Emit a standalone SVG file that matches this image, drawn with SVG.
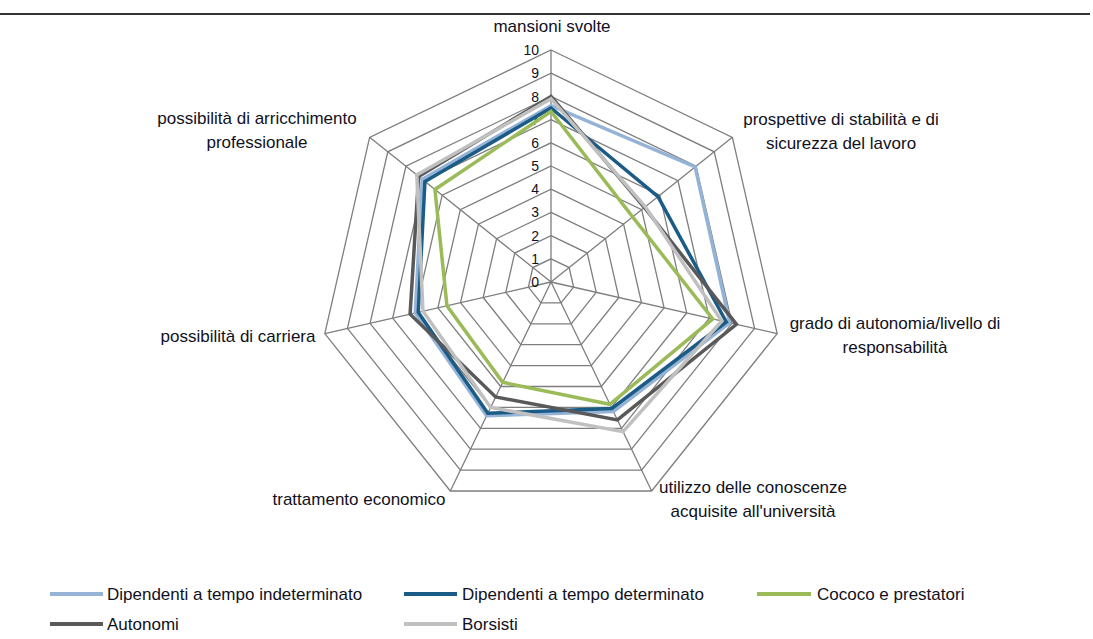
<svg xmlns="http://www.w3.org/2000/svg" width="1093" height="639" viewBox="0 0 1093 639">
<style>
.lbl{font-family:"Liberation Sans",Arial,sans-serif;font-size:17px;fill:#111122;text-anchor:middle}
.leg{font-family:"Liberation Sans",Arial,sans-serif;font-size:17px;fill:#111122}
.tick{font-family:"Liberation Sans",Arial,sans-serif;font-size:14px;fill:#111122;text-anchor:end}
.grid{fill:none;stroke:#7e7e7e;stroke-width:1.3}
.ser{fill:none;stroke-width:3.5;stroke-linejoin:miter;vector-effect:non-scaling-stroke}
.s1{stroke:#95b3d7}.s2{stroke:#1b5c86}.s3{stroke:#9bbb59}.s4{stroke:#595959}.s5{stroke:#c0c0c0}
.ll{stroke-width:4}
</style>
<rect width="1093" height="639" fill="#ffffff"/>
<line x1="0" y1="14" x2="1090" y2="14" stroke="#333333" stroke-width="2"/>
<g id="grid" class="grid">
<polygon points="551,258.8 569.14,267.54 573.62,287.16 561.07,302.9 540.93,302.9 528.38,287.16 532.86,267.54"/>
<polygon points="551,235.6 587.28,253.07 596.24,292.32 571.13,323.8 530.87,323.8 505.76,292.32 514.72,253.07"/>
<polygon points="551,212.4 605.41,238.6 618.85,297.49 581.2,344.71 520.8,344.71 483.15,297.49 496.59,238.6"/>
<polygon points="551,189.2 623.55,224.14 641.47,302.65 591.26,365.61 510.74,365.61 460.53,302.65 478.45,224.14"/>
<polygon points="551,166 641.69,209.67 664.09,307.81 601.33,386.51 500.67,386.51 437.91,307.81 460.31,209.67"/>
<polygon points="551,142.8 659.83,195.21 686.71,312.97 611.4,407.41 490.6,407.41 415.29,312.97 442.17,195.21"/>
<polygon points="551,119.6 677.97,180.74 709.33,318.13 621.46,428.31 480.54,428.31 392.67,318.13 424.03,180.74"/>
<polygon points="551,96.4 696.1,166.28 731.94,323.3 631.53,449.22 470.47,449.22 370.06,323.3 405.9,166.28"/>
<polygon points="551,73.2 714.24,151.82 754.56,328.46 641.59,470.12 460.41,470.12 347.44,328.46 387.76,151.82"/>
<polygon points="551,50 732.38,137.35 777.18,333.62 651.66,491.02 450.34,491.02 324.82,333.62 369.62,137.35"/>
<path d="M551 282L551 50M551 282L732.38 137.35M551 282L777.18 333.62M551 282L651.66 491.02M551 282L450.34 491.02M551 282L324.82 333.62M551 282L369.62 137.35"/>
</g>
<g id="ticks" class="tick">
<text x="539" y="287">0</text>
<text x="539" y="264">1</text>
<text x="539" y="241">2</text>
<text x="539" y="217">3</text>
<text x="539" y="194">4</text>
<text x="539" y="171">5</text>
<text x="539" y="148">6</text>
<text x="539" y="125">7</text>
<text x="539" y="102">8</text>
<text x="539" y="78">9</text>
<text x="539" y="55">10</text>
</g>
<g id="series" transform="translate(551 282) scale(23.2)">
<polygon id="indeterminato" class="ser s1" points="0,-7.6 6.2155,-4.9567 7.7019,1.7579 2.6901,5.586 -2.7768,5.7662 -5.8496,1.3351 -5.551,-4.4268"/>
<polygon id="determinato" class="ser s2" points="0,-7.5 4.6128,-3.6786 7.5557,1.7245 2.625,5.4509 -2.7248,5.6581 -5.7228,1.3062 -5.4337,-4.3333"/>
<polygon id="cococo" class="ser s3" points="0,-7.35 3.5182,-2.8057 6.9707,1.591 2.5382,5.2707 -2.0826,4.3247 -4.4847,1.0236 -5.0037,-3.9903"/>
<polygon id="autonomi" class="ser s4" points="0,-8 4.0264,-3.211 7.9944,1.8247 2.8636,5.9464 -2.3863,4.9553 -6.0738,1.3863 -5.7074,-4.5515"/>
<polygon id="borsisti" class="ser s5" points="0,-7.9 4.0655,-3.2421 7.3607,1.68 3.1066,6.4509 -2.6033,5.4058 -5.5181,1.2595 -5.7855,-4.6138"/>
</g>
<g id="axis-labels" class="lbl">
<text x="552" y="32">mansioni svolte</text>
<text x="841" y="125">prospettive di stabilità e di</text>
<text x="841" y="149">sicurezza del lavoro</text>
<text x="895" y="329">grado di autonomia/livello di</text>
<text x="895" y="353">responsabilità</text>
<text x="753" y="493">utilizzo delle conoscenze</text>
<text x="753" y="517">acquisite all'università</text>
<text x="359" y="505">trattamento economico</text>
<text x="238" y="342">possibilità di carriera</text>
<text x="257" y="124">possibilità di arricchimento</text>
<text x="257" y="148">professionale</text>
</g>
<g id="legend">
<line class="s1 ll" x1="50" y1="594" x2="103" y2="594"/>
<text class="leg" x="107" y="600">Dipendenti a tempo indeterminato</text>
<line class="s2 ll" x1="404" y1="594" x2="457" y2="594"/>
<text class="leg" x="462" y="600">Dipendenti a tempo determinato</text>
<line class="s3 ll" x1="757" y1="594" x2="811" y2="594"/>
<text class="leg" x="817" y="600">Cococo e prestatori</text>
<line class="s4 ll" x1="50" y1="624" x2="103" y2="624"/>
<text class="leg" x="107" y="630">Autonomi</text>
<line class="s5 ll" x1="404" y1="624" x2="457" y2="624"/>
<text class="leg" x="462" y="630">Borsisti</text>
</g>
</svg>
